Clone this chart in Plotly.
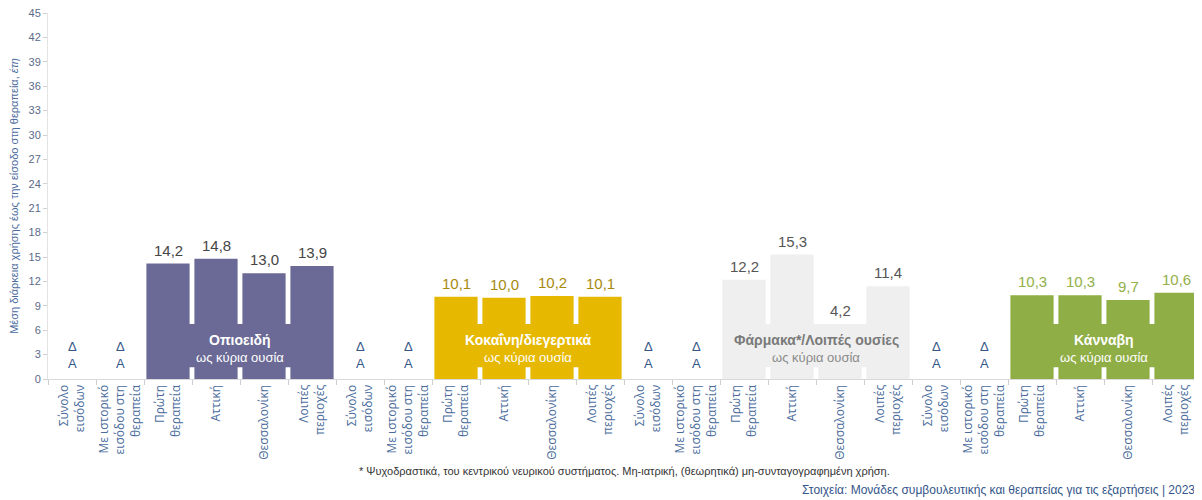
import plotly.graph_objects as go

# categories inside each substance group
subcats = [
    "Σύνολο<br>εισόδων",
    "Με ιστορικό<br>εισόδου στη<br>θεραπεία",
    "Πρώτη<br>θεραπεία",
    "Αττική",
    "Θεσσαλονίκη",
    "Λοιπές<br>περιοχές",
]
groups = ["Οπιοειδή", "Κοκαΐνη/διεγερτικά", "Φάρμακα*/Λοιπές ουσίες", "Κάνναβη"]

opioids = [None, None, 14.2, 14.8, 13.0, 13.9]
cocaine = [None, None, 10.1, 10.0, 10.2, 10.1]
pharma = [None, None, 12.2, 15.3, 4.2, 11.4]
cannabis = [None, None, 10.3, 10.3, 9.7, 10.6]

bar_colors = ["#6b6a96", "#e6b800", "#efefef", "#8fae46"]
value_colors = ["#454545", "#a8890f", "#555555", "#93b04a"]
label_colors = [("#ffffff", "#ffffff"), ("#ffffff", "#ffffff"), ("#7a7a7a", "#8a8a8a"), ("#ffffff", "#ffffff")]

series = [opioids, cocaine, pharma, cannabis]
FONT = "Liberation Sans, Arial, sans-serif"
TICKFONT = "Open Sans, sans-serif"
BOX_LO, BOX_HI = 1.45, 6.75

fig = go.Figure()
annotations = []
shapes = []
tickvals, ticktext = [], []

for g, (name, vals) in enumerate(zip(groups, series)):
    xs = [g * 6 + i for i in range(6)]
    tickvals += xs
    ticktext += subcats
    fig.add_trace(go.Bar(
        x=xs, y=[v if v is not None else 0 for v in vals],
        marker=dict(color=bar_colors[g], line=dict(width=0)),
        width=0.9, hoverinfo="skip", showlegend=False,
    ))
    bar_x = [x for x, v in zip(xs, vals) if v is not None]
    shapes.append(dict(type="rect", xref="x", yref="y", x0=min(bar_x) - 0.4, x1=max(bar_x) + 0.4,
                       y0=BOX_LO, y1=BOX_HI, fillcolor=bar_colors[g], line=dict(width=0), layer="above"))
    for x, v in zip(xs, vals):
        if v is None:
            annotations.append(dict(x=x, y=2.9, xref="x", yref="y", text="Δ<br>Α", showarrow=False,
                                    font=dict(family=FONT, size=13, color="#34558a")))
        else:
            annotations.append(dict(x=x, y=max(v, BOX_HI), xref="x", yref="y", yanchor="bottom", yshift=3,
                                    text=f"{v:.1f}".replace(".", ","), showarrow=False,
                                    font=dict(family=FONT, size=15, color=value_colors[g])))
    cx = (min(bar_x) + max(bar_x)) / 2
    annotations.append(dict(x=cx, y=4.8, xref="x", yref="y", text=f"<b>{name}</b>", showarrow=False,
                            font=dict(family=FONT, size=14, color=label_colors[g][0])))
    annotations.append(dict(x=cx, y=2.6, xref="x", yref="y", text="ως κύρια ουσία", showarrow=False,
                            font=dict(family=FONT, size=13, color=label_colors[g][1])))

annotations.append(dict(x=0.5, y=-0.251, xref="paper", yref="paper", showarrow=False,
                        xanchor="center", yanchor="middle",
                        text="* Ψυχοδραστικά, του κεντρικού νευρικού συστήματος. Μη-ιατρική, (θεωρητικά) μη-συνταγογραφημένη χρήση.",
                        font=dict(family=FONT, size=11, color="#333333")))
annotations.append(dict(x=0.997, y=-0.303, xref="paper", yref="paper", showarrow=False,
                        xanchor="right", yanchor="middle",
                        text="Στοιχεία: Μονάδες συμβουλευτικής και θεραπείας για τις εξαρτήσεις | 2023",
                        font=dict(family=FONT, size=12, color="#34558a")))

fig.update_layout(
    width=1192, height=490,
    margin=dict(l=40, r=0, t=5, b=119),
    plot_bgcolor="white", paper_bgcolor="white",
    bargap=0.1,
    shapes=shapes, annotations=annotations,
    xaxis=dict(
        range=[-0.5, 23.5], tickvals=tickvals, ticktext=ticktext, tickangle=-90,
        ticks="", showgrid=False, zeroline=False,
        showline=True, linecolor="#d9d9d9", linewidth=1,
        tickfont=dict(family=TICKFONT, size=12, color="#4a6b9c"),
        minor=dict(tick0=-0.5, dtick=1, ticks="outside", ticklen=5, tickcolor="#cfcfcf", showgrid=False),
    ),
    yaxis=dict(
        range=[0, 45], dtick=3, showgrid=False, zeroline=False, ticklabeloverflow="allow",
        showline=True, linecolor="#e3e3e3", ticks="outside", ticklen=4, tickcolor="#d0d0d0",
        tickfont=dict(family=FONT, size=11, color="#5b6b8a"),
        title=dict(text="Μέση διάρκεια χρήσης έως την είσοδο στη θεραπεία, <i>έτη</i>",
                   font=dict(family=FONT, size=11, color="#4a6b9c"), standoff=8),
    ),
)

fig.write_html("out.html")
